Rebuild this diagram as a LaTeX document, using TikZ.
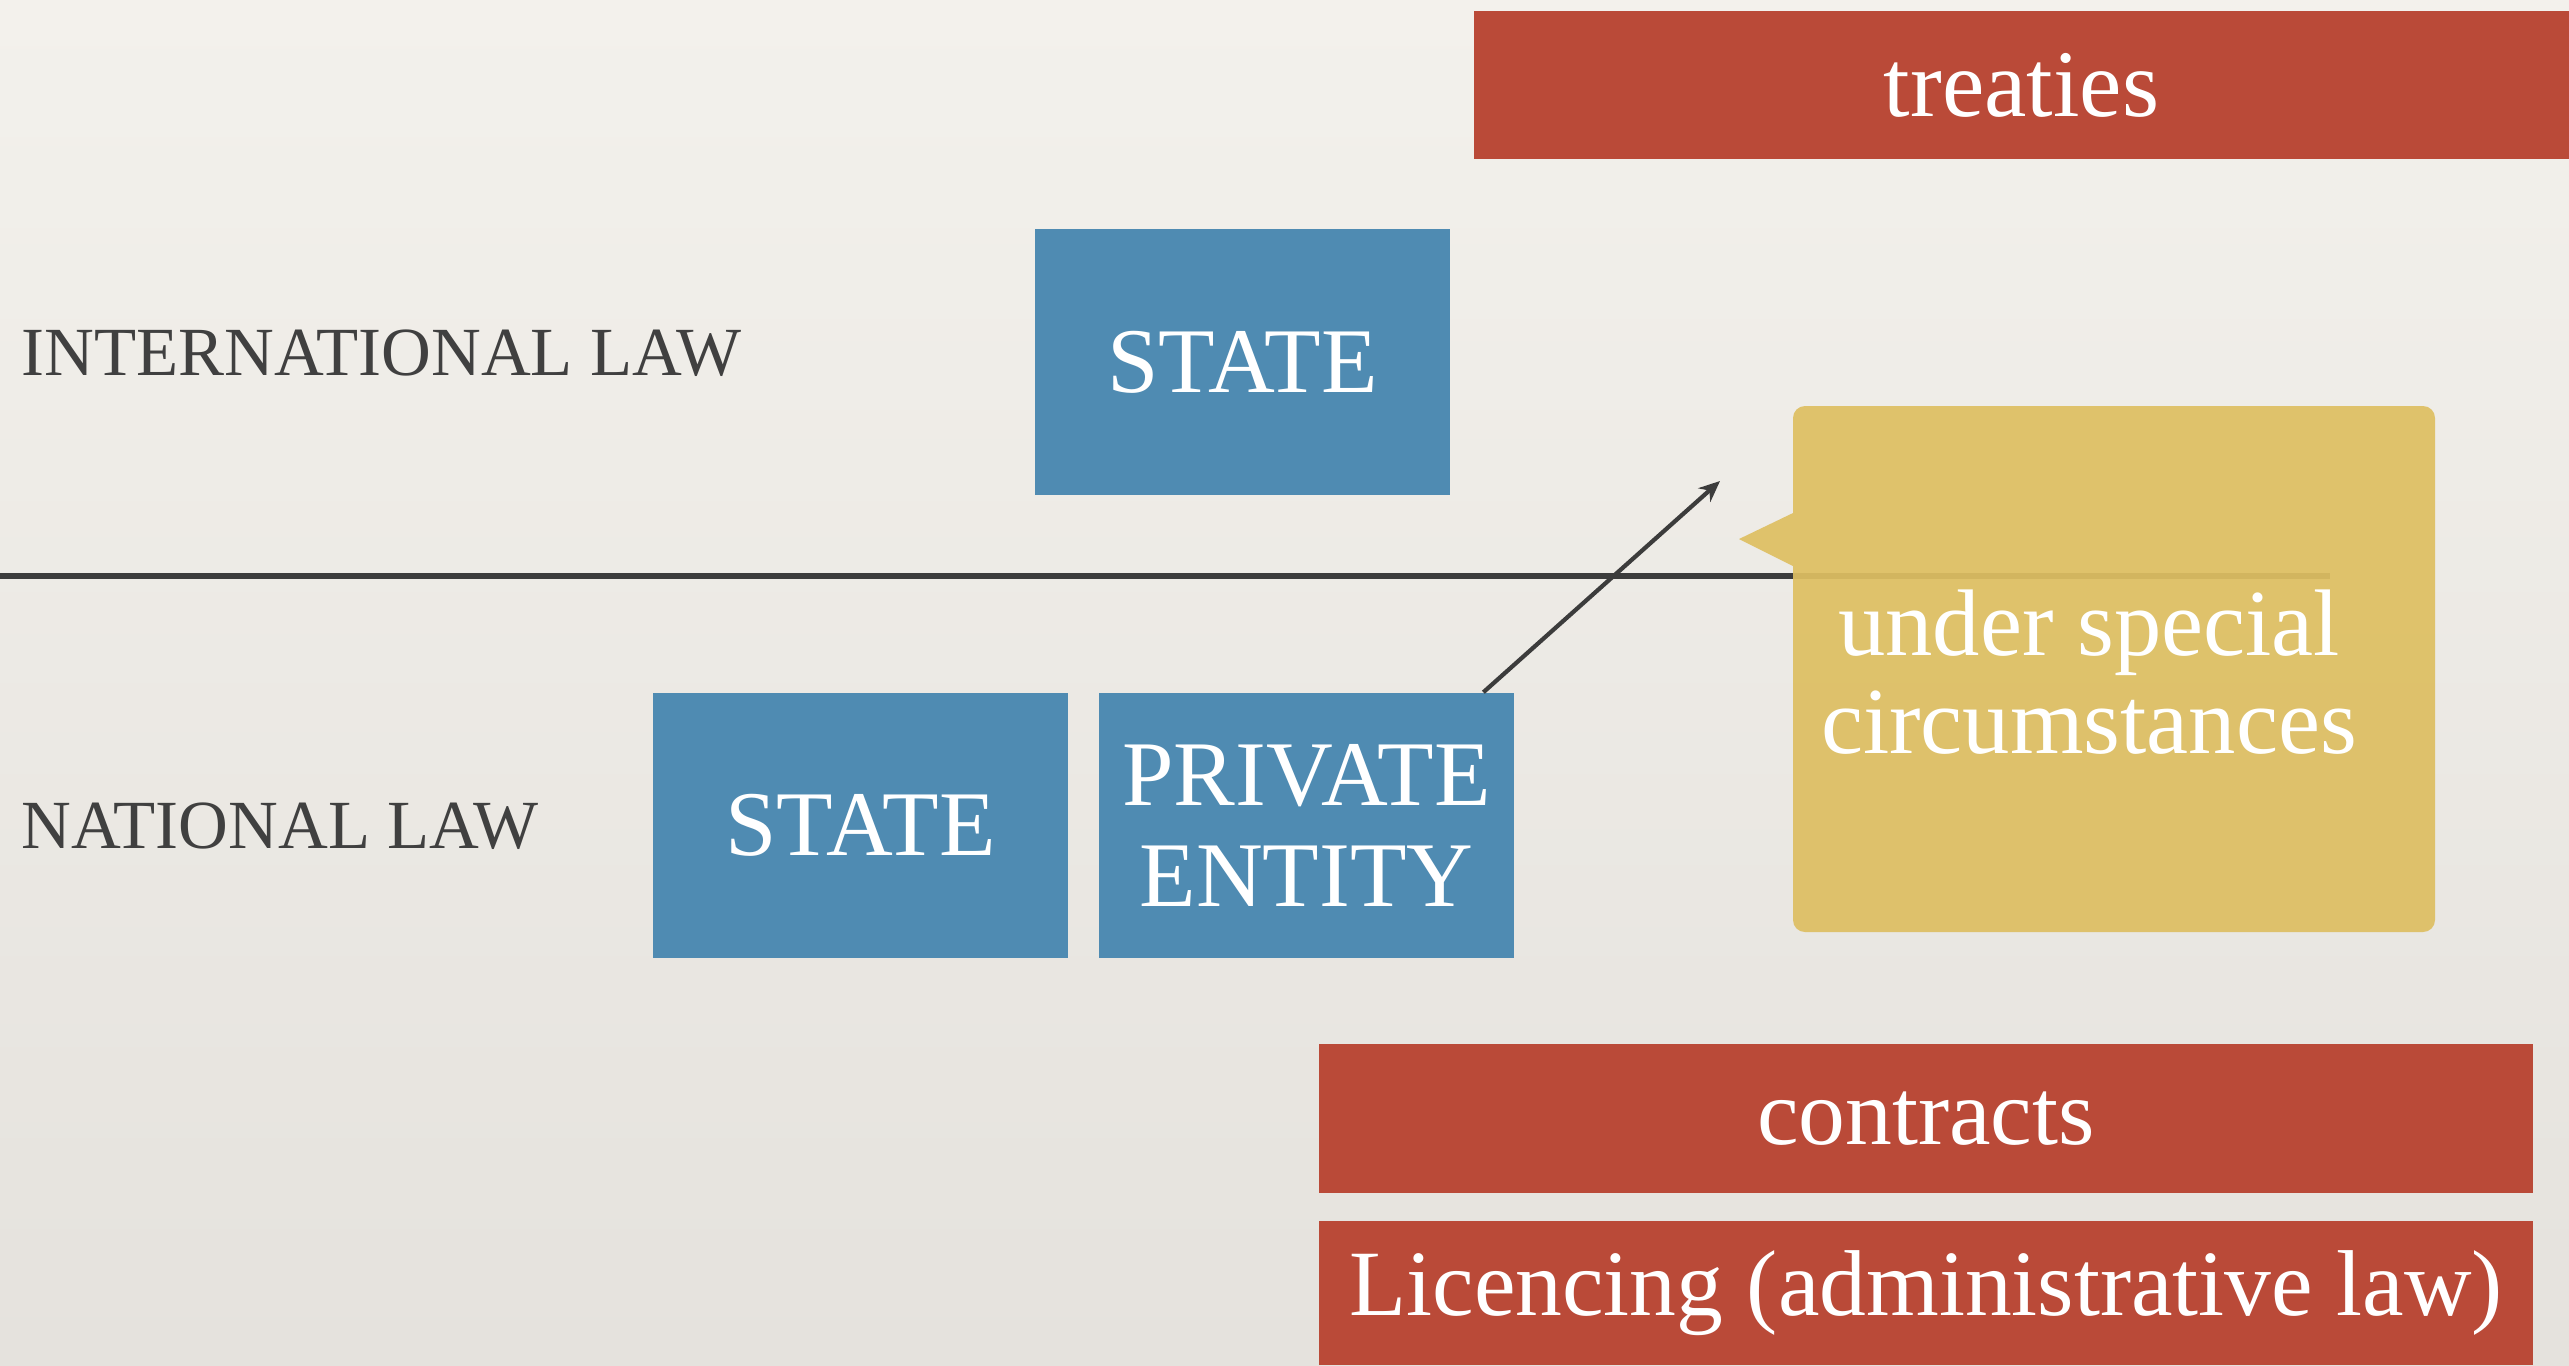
\documentclass[tikz,border=0pt]{standalone}
\usepackage{fontspec}
\setmainfont{Liberation Serif}
\usetikzlibrary{arrows.meta}
\definecolor{bgtop}{RGB}{243,241,236}
\definecolor{bgbot}{RGB}{229,226,221}
\definecolor{redbox}{RGB}{186,74,56}
\definecolor{bluebox}{RGB}{79,139,178}
\definecolor{yellowbox}{RGB}{222,191,98}
\definecolor{ink}{RGB}{60,60,60}
\definecolor{labelink}{RGB}{64,64,64}
\begin{document}
\begin{tikzpicture}[x=0.01cm,y=-0.01cm,
  bluecard/.style={fill=bluebox, text=white, minimum width=4.14cm, minimum height=2.65cm,
    inner sep=0pt, align=center, font=\fontsize{26.3}{28.5}\selectfont},
  redband/.style={fill=redbox, text=white, inner sep=0pt,
    font=\fontsize{26.6}{30}\selectfont},
  sidelabel/.style={anchor=west, text=labelink, inner sep=0pt,
    font=\fontsize{19.6}{22}\selectfont},
  divider/.style={draw=ink, line width=1.5pt},
  pointer/.style={draw=ink, line width=1.2pt, -{Stealth[length=6pt,width=5.2pt]}},
  calloutbg/.style={fill=yellowbox, fill opacity=0.93},
  callouttext/.style={text=white, align=center, inner sep=0pt,
    font=\fontsize{26.9}{28}\selectfont}]
% background
\shade[top color=bgtop, bottom color=bgbot] (0,0) rectangle (2569,1365);
\useasboundingbox (0,0) rectangle (2569,1365);
% divider line
\coordinate (lineL) at (0,576);
\coordinate (lineR) at (2330,576);
\draw[divider] (lineL) -- (lineR);
% side labels
\node[sidelabel] (intl) at (21,353) {INTERNATIONAL LAW};
\node[sidelabel] (natl) at (21,826) {NATIONAL LAW};
% red bands
\node[redband, minimum width=10.95cm, minimum height=1.48cm, font=\fontsize{27.1}{30}\selectfont] (treaties) at (2021.5,85) {treaties};
\node[redband, minimum width=12.14cm, minimum height=1.49cm] (contracts) at (1926,1118.5) {contracts};
\node[redband, minimum width=12.14cm, minimum height=1.44cm] (licencing) at (1926,1293) {Licencing (administrative law)};
% blue cards
\node[bluecard] (topstate) at (1242.5,362) {STATE};
\node[bluecard] (natstate) at (860.5,825.5) {STATE};
\node[bluecard] (private) at (1306.5,825.5) {PRIVATE\\ENTITY};
% callout
\fill[calloutbg] (1793,513) -- (1739,539) -- (1793,566)
  [rounded corners=3.4pt] -- (1793,932) -- (2435,932) -- (2435,406) -- (1793,406)
  [sharp corners] -- cycle;
\node[callouttext] (callout) at (2089,672) {under special\\circumstances};
% arrow
\coordinate (arrowend) at (1720,481);
\draw[pointer] (private.37) -- (arrowend);
\end{tikzpicture}
\end{document}
